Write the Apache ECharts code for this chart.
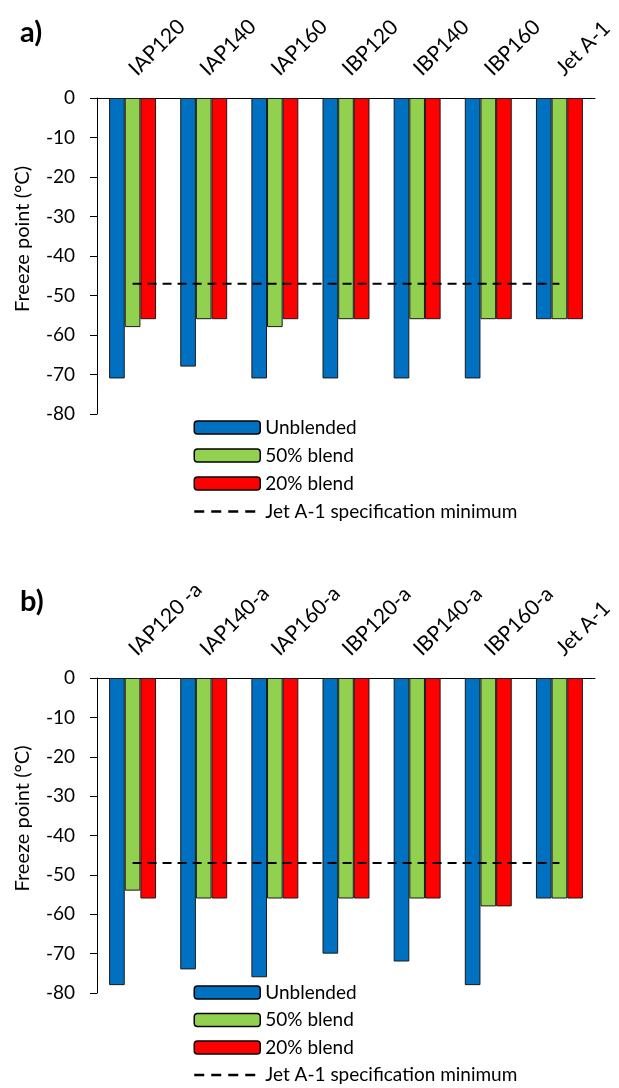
<!DOCTYPE html>
<html><head><meta charset="utf-8">
<script src="https://cdn.jsdelivr.net/npm/echarts@6/dist/echarts.min.js"></script>
<style>html,body{margin:0;padding:0;background:#fff}#c{width:619px;height:1088px}</style>
</head><body><div id="c"></div>
<script>
const catsA = ['IAP120','IAP140','IAP160','IBP120','IBP140','IBP160','Jet A-1'];
const catsB = ['IAP120 -a','IAP140-a','IAP160-a','IBP120-a','IBP140-a','IBP160-a','Jet A-1'];
const unblendedA = [-71,-68,-71,-71,-71,-71,-56];
const blend50A   = [-58,-56,-58,-56,-56,-56,-56];
const blend20A   = [-56,-56,-56,-56,-56,-56,-56];
const unblendedB = [-78,-74,-76,-70,-72,-78,-56];
const blend50B   = [-54,-56,-56,-56,-56,-58,-56];
const blend20B   = [-56,-56,-56,-56,-56,-58,-56];
const specMin = -47;
const yTicks = {min:-80,max:0,interval:10};
const seriesNames = ['Unblended','50% blend','20% blend','Jet A-1 specification minimum'];
const colors = ['#0070C0','#92D050','#FF0000'];

const FONT = 'Lato';
const chart = echarts.init(document.getElementById('c'));

function grids(){ return [
  {left:97,right:24,top:98,height:316},
  {left:97,right:24,top:678,height:315}
];}
function xAxis(idx,cats){
  return {type:'category',gridIndex:idx,position:'top',data:cats,
    axisLine:{lineStyle:{color:'#000',width:1}},
    axisTick:{inside:true,length:7,lineStyle:{color:'#000'}},
    axisLabel:{rotate:45,color:'#000',fontSize:21,fontFamily:FONT,margin:26,interval:0}};
}
function yAxis(idx){
  return {type:'value',gridIndex:idx,min:yTicks.min,max:yTicks.max,interval:yTicks.interval,
    name:'Freeze point (°C)',nameLocation:'middle',nameGap:64,nameRotate:90,
    nameTextStyle:{color:'#000',fontSize:20,fontFamily:FONT,padding:[0,0,0,34]},
    axisLine:{show:true,lineStyle:{color:'#000',width:1}},
    axisTick:{show:true,length:7,lineStyle:{color:'#000'}},
    splitLine:{show:false},
    axisLabel:{color:'#000',fontSize:19,fontFamily:FONT,margin:22}};
}
function bars(idx,data){
  return data.map((d,i)=>({type:'bar',name:seriesNames[i],xAxisIndex:idx,yAxisIndex:idx,data:d,
    barGap:'0%',barCategoryGap:'34%',
    itemStyle:{color:colors[i],borderColor:'#1a1a1a',borderWidth:1}}));
}
function spec(idx,n){
  return {type:'line',name:seriesNames[3],xAxisIndex:idx,yAxisIndex:idx,
    data:new Array(n).fill(specMin),symbol:'none',z:5,
    lineStyle:{color:'#000',width:2,type:[9,6]},itemStyle:{color:'#000'}};
}
function legend(top,gap){
  return {orient:'vertical',left:193,top:top,padding:0,itemWidth:66,itemHeight:13,itemGap:gap,
    data:[
      {name:seriesNames[0]},{name:seriesNames[1]},{name:seriesNames[2]},
      {name:seriesNames[3],itemStyle:{color:'rgba(0,0,0,0)',borderColor:'rgba(0,0,0,0)',borderWidth:0},
       lineStyle:{color:'#000',width:2.5,type:[10,7]}}
    ],
    textStyle:{color:'#000',fontSize:19,fontFamily:FONT},
    itemStyle:{borderColor:'#000',borderWidth:1.5}};
}
chart.setOption({
  animation:false,
  grid:grids(),
  xAxis:[xAxis(0,catsA),xAxis(1,catsB)],
  yAxis:[yAxis(0),yAxis(1)],
  legend:[legend(418,9),legend(983,8.5)],
  title:[
    {text:'a)',left:20,top:18,padding:0,textStyle:{fontSize:29,fontWeight:'bold',color:'#000',fontFamily:FONT}},
    {text:'b)',left:20,top:587,padding:0,textStyle:{fontSize:29,fontWeight:'bold',color:'#000',fontFamily:FONT}}
  ],
  series:[
    ...bars(0,[unblendedA,blend50A,blend20A]), spec(0,catsA.length),
    ...bars(1,[unblendedB,blend50B,blend20B]), spec(1,catsB.length)
  ]
});
</script></body></html>
